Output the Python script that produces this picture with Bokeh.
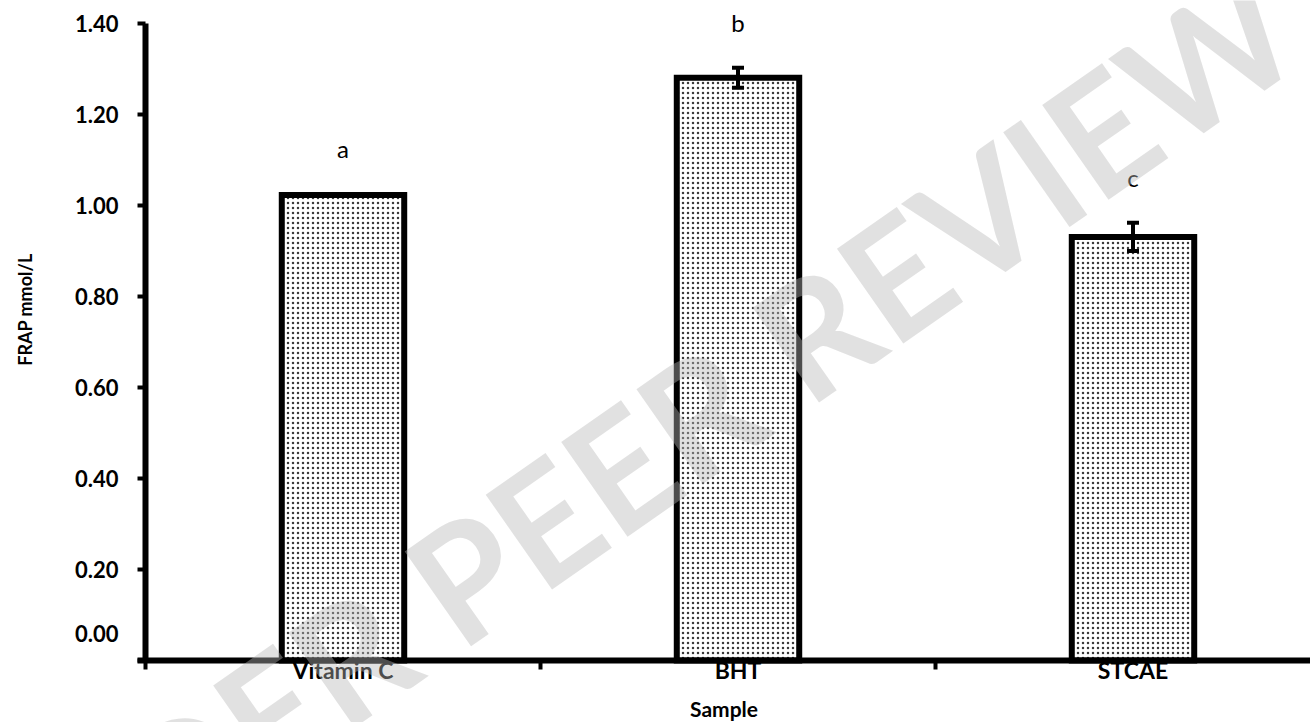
import math
from bokeh.plotting import figure
from bokeh.models import (ColumnDataSource, FixedTicker, PrintfTickFormatter, Label,
                          LabelSet, Whisker, TeeHead, Range1d)
from bokeh.core.properties import value
from bokeh.embed import file_html
from bokeh.resources import INLINE

# ---- data ----
categories = ["Vitamin C", "BHT", "STCAE"]
frap_values = [1.023, 1.281, 0.931]
frap_errors = [0.002, 0.022, 0.031]
sig_letters = ["a", "b", "c"]
y_ticks = [0.0, 0.2, 0.4, 0.6, 0.8, 1.0, 1.2, 1.4]
y_title = "FRAP mmol/L"
x_title = "Sample"
watermark_text = "UNDER PEER REVIEW"

FONT = "Lato"
letter_gap = 0.1

W, H = 1310, 722
X0, Y0 = 145.0, 660.0        # pixel position of data origin
SX, SY = 395.0, 455.0        # pixels per data unit

xs = [i + 0.5 for i in range(len(categories))]
bounds = [float(i) for i in range(len(categories) + 1)]
src = ColumnDataSource(dict(
    x=xs,
    top=frap_values,
    upper=[v + e for v, e in zip(frap_values, frap_errors)],
    lower=[v - e for v, e in zip(frap_values, frap_errors)],
    ly=[v + e + letter_gap for v, e in zip(frap_values, frap_errors)],
    letter=sig_letters,
))

p = figure(width=W, height=H,
           x_range=Range1d(-X0 / SX, (W - X0) / SX),
           y_range=Range1d(-(H - Y0) / SY, Y0 / SY),
           output_backend="svg", toolbar_location=None, min_border=0,
           min_border_left=0, min_border_right=0, min_border_top=0, min_border_bottom=0)
p.outline_line_color = None
p.xgrid.grid_line_color = None
p.ygrid.grid_line_color = None
p.background_fill_color = "white"
p.border_fill_color = "white"

p.vbar(x="x", top="top", bottom=0, width=0.31, source=src,
       fill_color="white", line_color="black", line_width=6, line_join="miter",
       hatch_pattern="dot", hatch_color="#3a3a3a", hatch_scale=5, hatch_weight=1.7)

wh = Whisker(base="x", upper="upper", lower="lower", source=src,
             line_color="black", line_width=4, level="annotation",
             upper_head=TeeHead(size=12, line_width=4, line_color="black"),
             lower_head=TeeHead(size=12, line_width=4, line_color="black"))
p.add_layout(wh)

letters = LabelSet(x="x", y="ly", text="letter", source=src, text_align="center",
                   text_baseline="middle", text_font=value(FONT), text_font_size="24px",
                   text_color="black")
p.add_layout(letters)

# y axis (drawn at x = 0 inside the frame)
ya = p.yaxis[0]
ya.fixed_location = 0
ya.bounds = (y_ticks[0], y_ticks[-1])
ya.ticker = FixedTicker(ticks=y_ticks)
ya.formatter = PrintfTickFormatter(format="%.2f")
ya.major_label_overrides = {0: ""}
ya.axis_line_width = 6
ya.axis_line_color = "black"
ya.major_tick_line_width = 4
ya.major_tick_out = 8
ya.major_tick_in = 0
ya.minor_tick_line_color = None
ya.major_label_text_font = FONT
ya.major_label_text_font_style = "bold"
ya.major_label_text_font_size = "22px"
ya.major_label_text_color = "black"
ya.major_label_standoff = 19

# x axis (drawn at y = 0 inside the frame)
xa = p.xaxis[0]
xa.fixed_location = 0
xa.bounds = (-0.02, (W - X0) / SX)
xa.ticker = FixedTicker(ticks=xs, minor_ticks=bounds)
xa.major_label_overrides = {x: c for x, c in zip(xs, categories)}
xa.axis_line_width = 6
xa.axis_line_color = "black"
xa.major_tick_line_color = None
xa.major_tick_out = 0
xa.major_tick_in = 0
xa.minor_tick_line_color = "black"
xa.minor_tick_line_width = 4
xa.minor_tick_out = 9
xa.minor_tick_in = 0
xa.major_label_text_font = FONT
xa.major_label_text_font_style = "bold"
xa.major_label_text_font_size = "23px"
xa.major_label_text_color = "black"
xa.major_label_standoff = -14
xa.axis_label = x_title
xa.axis_label_text_font = FONT
xa.axis_label_text_font_style = "bold"
xa.axis_label_text_font_size = "21px"
xa.axis_label_text_color = "black"
xa.axis_label_standoff = 9

# raised 0.00 label
p.add_layout(Label(x=(118 - X0) / SX, y=27 / SY, text="%.2f" % y_ticks[0], text_align="right",
                   text_baseline="middle", text_font=FONT, text_font_style="bold",
                   text_font_size="22px", text_color="black"))

# y title
p.add_layout(Label(x=(24 - X0) / SX, y=(Y0 - 309) / SY, text=y_title, angle=math.pi / 2,
                   text_align="center", text_baseline="middle", text_font=FONT,
                   text_font_style="bold", text_font_size="18px", text_color="black"))

# watermark
p.add_layout(Label(x=(605 - X0) / SX, y=(Y0 - 476) / SY, text=watermark_text,
                   angle=math.radians(35),
                   text_align="center", text_baseline="middle", text_font=FONT,
                   text_font_style="bold", text_font_size="160px",
                   text_color="#b8b8b8", text_alpha=0.42))

open("out.html", "w").write(file_html(p, INLINE))
